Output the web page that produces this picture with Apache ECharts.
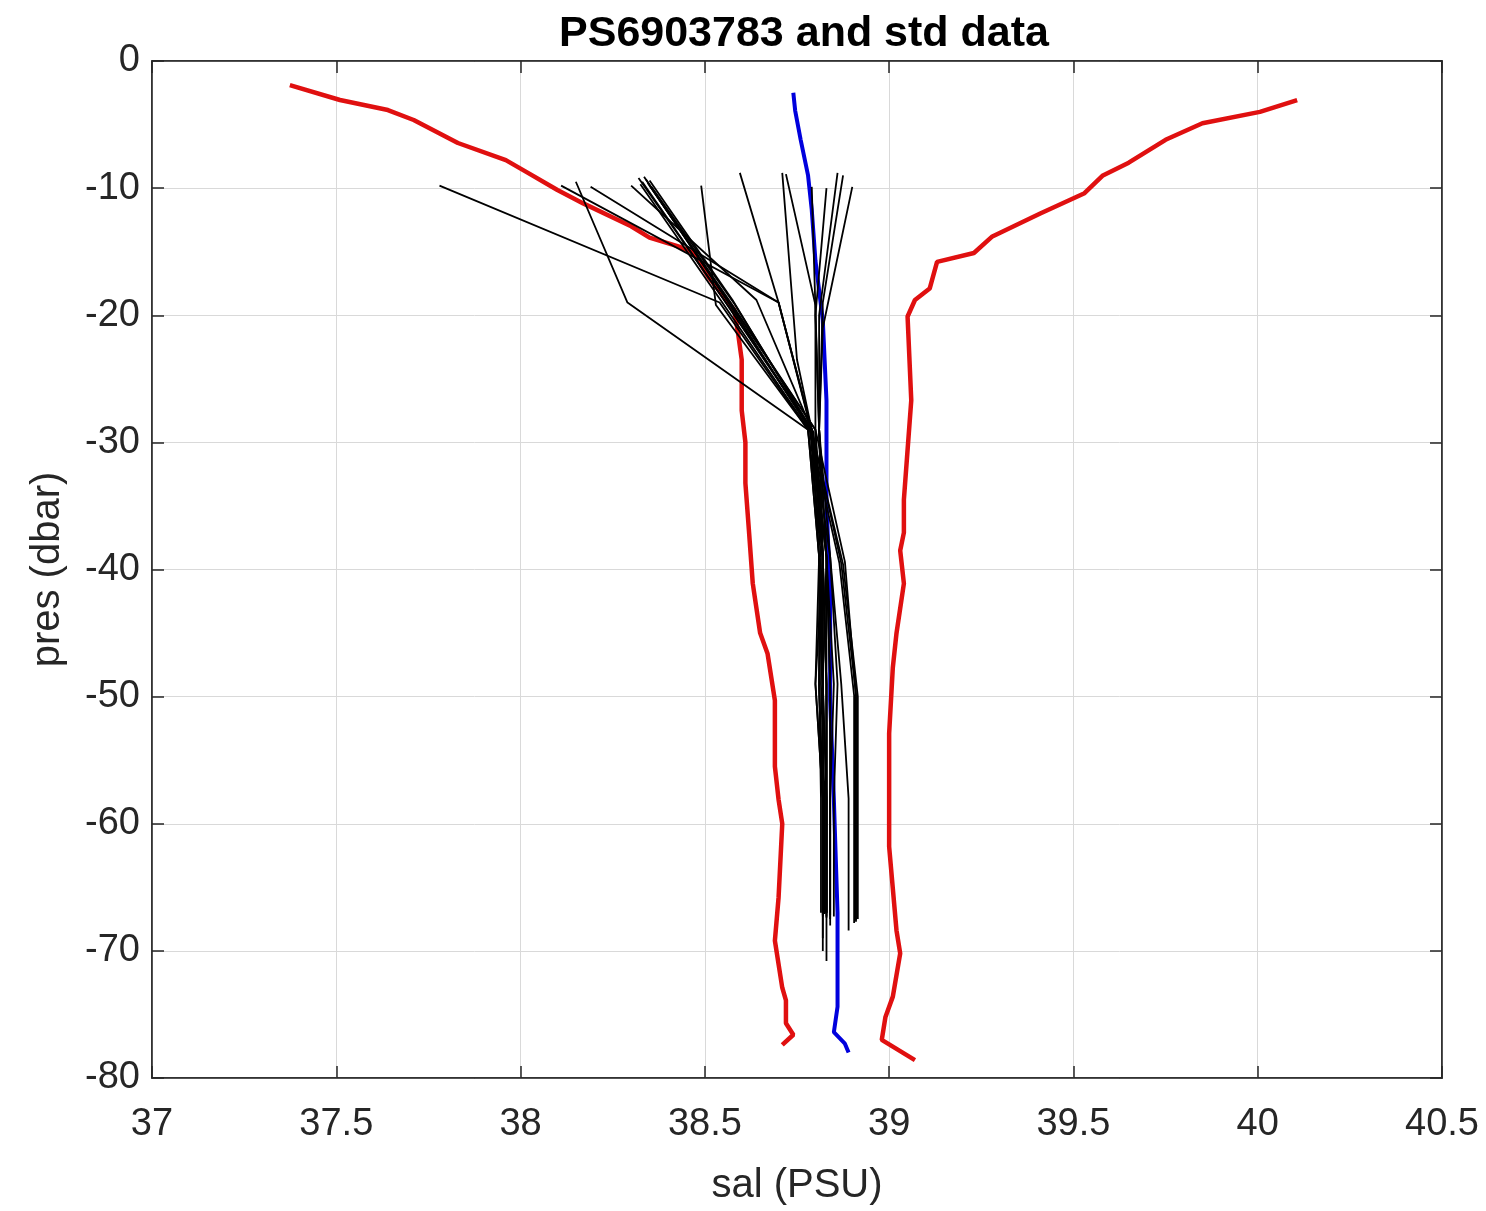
<!DOCTYPE html>
<html>
<head>
<meta charset="utf-8">
<script src="https://cdn.jsdelivr.net/npm/echarts@6/dist/echarts.min.js"></script>
<style>
  html, body { margin: 0; padding: 0; background: #fff; }
  #main { width: 1486px; height: 1211px; }
</style>
</head>
<body>
<div id="main"></div>
<script>
// sal / pres pairs
var float_profile = [
    [38.74, -2.5], [38.745, -3.9], [38.76, -6.2], [38.78, -9], [38.79, -11.7], [38.80, -15.7],
    [38.82, -20.4], [38.83, -26.7], [38.83, -34.5], [38.84, -42.4], [38.84, -50.3], [38.85, -58.1],
    [38.86, -67], [38.86, -74.4], [38.85, -76.4], [38.88, -77.3], [38.89, -78.0]
];

var lower_bound = [
    [37.374, -1.9], [37.51, -3.07], [37.64, -3.86], [37.71, -4.64], [37.83, -6.45], [37.96, -7.8],
    [38.02, -8.8], [38.10, -10.15], [38.17, -11.2], [38.30, -13.0], [38.35, -13.9], [38.43, -14.6],
    [38.47, -15.1], [38.51, -17.0], [38.58, -19.6], [38.59, -21.4], [38.60, -23.5], [38.60, -27.5],
    [38.61, -30.0], [38.61, -33.2], [38.62, -37.1], [38.63, -41.1], [38.65, -45.0], [38.67, -46.6],
    [38.69, -50.3], [38.69, -55.5], [38.70, -58.1], [38.71, -60.0], [38.70, -65.8], [38.69, -69.2],
    [38.71, -72.9], [38.72, -73.9], [38.72, -75.7], [38.74, -76.6], [38.71, -77.4]
];

var upper_bound = [
    [40.107, -3.07], [40.006, -4.0], [39.85, -4.9], [39.75, -6.2], [39.65, -8.0], [39.58, -9.0],
    [39.53, -10.4], [39.41, -12.0], [39.28, -13.8], [39.23, -15.1], [39.13, -15.8], [39.11, -17.9],
    [39.07, -18.8], [39.05, -20.1], [39.06, -26.7], [39.05, -30.6], [39.04, -34.5], [39.04, -37.1],
    [39.03, -38.5], [39.04, -41.1], [39.02, -45.0], [39.01, -47.7], [39.00, -52.9], [39.00, -58.1],
    [39.00, -61.8], [39.02, -68.4], [39.03, -70.2], [39.01, -73.6], [38.99, -75.2], [38.98, -77.0],
    [39.07, -78.6]
];

// std (reference) profiles
var std_profiles = [
    [[37.78, -9.8], [38.54, -19.0], [38.78, -29], [38.82, -39], [38.83, -49], [38.83, -58], [38.83, -70.8]],
    [[38.15, -9.5], [38.29, -19.0], [38.78, -29], [38.81, -39], [38.80, -49], [38.82, -58], [38.82, -70.0]],
    [[38.11, -9.8], [38.70, -19.0], [38.79, -29], [38.83, -39], [38.84, -49], [38.84, -58], [38.84, -67.5]],
    [[38.19, -9.9], [38.70, -19.0], [38.79, -29.2], [38.82, -39], [38.82, -49], [38.83, -58], [38.83, -67.3]],
    [[38.30, -9.8], [38.64, -18.8], [38.79, -29], [38.83, -39], [38.85, -49], [38.84, -58], [38.84, -68]],
    [[38.33, -9.5], [38.55, -18.7], [38.79, -29], [38.87, -39.5], [38.91, -49.8], [38.91, -67.7]],
    [[38.34, -9.3], [38.56, -18.8], [38.79, -29.2], [38.875, -39.6], [38.915, -50], [38.915, -67.5]],
    [[38.35, -9.8], [38.57, -19.0], [38.80, -29], [38.88, -39.4], [38.91, -49.9], [38.91, -67.6]],
    [[38.325, -9.7], [38.545, -18.9], [38.785, -29.1], [38.865, -39.5], [38.905, -49.9], [38.905, -67.8]],
    [[38.335, -9.1], [38.555, -18.6], [38.79, -29.1], [38.81, -39], [38.81, -49], [38.82, -58], [38.82, -67.2]],
    [[38.345, -9.6], [38.565, -18.9], [38.80, -29], [38.82, -39], [38.80, -49], [38.82, -58], [38.825, -67]],
    [[38.35, -9.4], [38.575, -18.8], [38.79, -29.1], [38.83, -39], [38.83, -49], [38.83, -58], [38.83, -67.4]],
    [[38.355, -9.9], [38.58, -19.1], [38.795, -29.2], [38.82, -39], [38.815, -49], [38.825, -58], [38.825, -67.1]],
    [[38.32, -9.2], [38.545, -18.5], [38.785, -28.8], [38.815, -39], [38.81, -49], [38.815, -58], [38.815, -67]],
    [[38.49, -9.8], [38.53, -19.2], [38.78, -29], [38.81, -39], [38.82, -49], [38.82, -58], [38.82, -69]],
    [[38.595, -8.8], [38.70, -19], [38.79, -29], [38.84, -39], [38.87, -49], [38.89, -58], [38.89, -68.4]],
    [[38.71, -8.8], [38.75, -23.5], [38.79, -29], [38.82, -39], [38.83, -49], [38.83, -58], [38.83, -67]],
    [[38.72, -8.9], [38.80, -19.2], [38.80, -29], [38.82, -39], [38.81, -49], [38.82, -58], [38.82, -67.3]],
    [[38.79, -9.9], [38.80, -19.5], [38.81, -29], [38.82, -39], [38.82, -49], [38.83, -58], [38.83, -67]],
    [[38.83, -10], [38.80, -20], [38.81, -29], [38.83, -39], [38.84, -49], [38.84, -58], [38.84, -67.2]],
    [[38.86, -8.8], [38.81, -20], [38.81, -29], [38.82, -39], [38.83, -49], [38.83, -58], [38.83, -67]],
    [[38.875, -9.0], [38.82, -19], [38.81, -29], [38.84, -39], [38.86, -49], [38.85, -58], [38.85, -67.3]],
    [[38.90, -9.9], [38.82, -21], [38.81, -29], [38.83, -39], [38.82, -49], [38.82, -58], [38.82, -67]]
];

var sal_ticks = [37, 37.5, 38, 38.5, 39, 39.5, 40, 40.5];
var pres_ticks = [0, -10, -20, -30, -40, -50, -60, -70, -80];

var chart = echarts.init(document.getElementById('main'));

var font = 'Liberation Sans, Arial, Helvetica, sans-serif';
var gridColor = '#d9d9d9';
var axisColor = '#262626';

var series = [];
std_profiles.forEach(function (p, i) {
    series.push({
        name: 'std' + i,
        type: 'line',
        data: p,
        showSymbol: false,
        lineStyle: { color: '#000', width: 1.8 },
        z: 3
    });
});
series.push({
    name: 'lower',
    type: 'line',
    data: lower_bound,
    showSymbol: false,
    lineStyle: { color: '#e01010', width: 4.5 },
    z: 2
});
series.push({
    name: 'upper',
    type: 'line',
    data: upper_bound,
    showSymbol: false,
    lineStyle: { color: '#e01010', width: 4.5 },
    z: 2
});
series.push({
    name: 'float',
    type: 'line',
    data: float_profile,
    showSymbol: false,
    lineStyle: { color: '#0000dd', width: 4 },
    z: 2
});

var tickFmt = function (v) { return String(v); };

chart.setOption({
    animation: false,
    backgroundColor: '#fff',
    title: {
        text: 'PS6903783 and std data',
        left: 799,
        textAlign: 'center',
        top: 8,
        textStyle: { fontFamily: font, fontSize: 43, fontWeight: 'bold', color: '#000' }
    },
    grid: { left: 152, right: 44, top: 61, bottom: 133, show: true, borderColor: axisColor, borderWidth: 1.5 },
    xAxis: [{
        type: 'value',
        min: sal_ticks[0],
        max: sal_ticks[sal_ticks.length - 1],
        interval: 0.5,
        name: 'sal (PSU)',
        nameLocation: 'middle',
        nameGap: 88,
        nameTextStyle: { fontFamily: font, fontSize: 40, color: '#262626' },
        axisLine: { onZero: false, lineStyle: { color: axisColor, width: 1.5 } },
        axisTick: { inside: true, length: 12, lineStyle: { color: axisColor, width: 1.5 } },
        axisLabel: { fontFamily: font, fontSize: 38, color: '#262626', margin: 28, formatter: tickFmt },
        splitLine: { show: true, lineStyle: { color: gridColor, width: 1 } }
    }, {
        type: 'value',
        position: 'top',
        min: sal_ticks[0],
        max: sal_ticks[sal_ticks.length - 1],
        interval: 0.5,
        axisLine: { show: true, onZero: false, lineStyle: { color: axisColor, width: 1.5 } },
        axisTick: { inside: true, length: 12, lineStyle: { color: axisColor, width: 1.5 } },
        axisLabel: { show: false },
        splitLine: { show: false }
    }],
    yAxis: [{
        type: 'value',
        min: pres_ticks[pres_ticks.length - 1],
        max: pres_ticks[0],
        interval: 10,
        name: 'pres (dbar)',
        nameLocation: 'middle',
        nameGap: 84,
        nameTextStyle: { fontFamily: font, fontSize: 40, color: '#262626' },
        axisLine: { show: true, onZero: false, lineStyle: { color: axisColor, width: 1.5 } },
        axisTick: { show: true, inside: true, length: 12, lineStyle: { color: axisColor, width: 1.5 } },
        axisLabel: { fontFamily: font, fontSize: 38, color: '#262626', margin: 12, formatter: tickFmt },
        splitLine: { show: true, lineStyle: { color: gridColor, width: 1 } }
    }, {
        type: 'value',
        position: 'right',
        min: pres_ticks[pres_ticks.length - 1],
        max: pres_ticks[0],
        interval: 10,
        axisLine: { show: true, onZero: false, lineStyle: { color: axisColor, width: 1.5 } },
        axisTick: { show: true, inside: true, length: 12, lineStyle: { color: axisColor, width: 1.5 } },
        axisLabel: { show: false },
        splitLine: { show: false }
    }],
    series: series
});
</script>
</body>
</html>
